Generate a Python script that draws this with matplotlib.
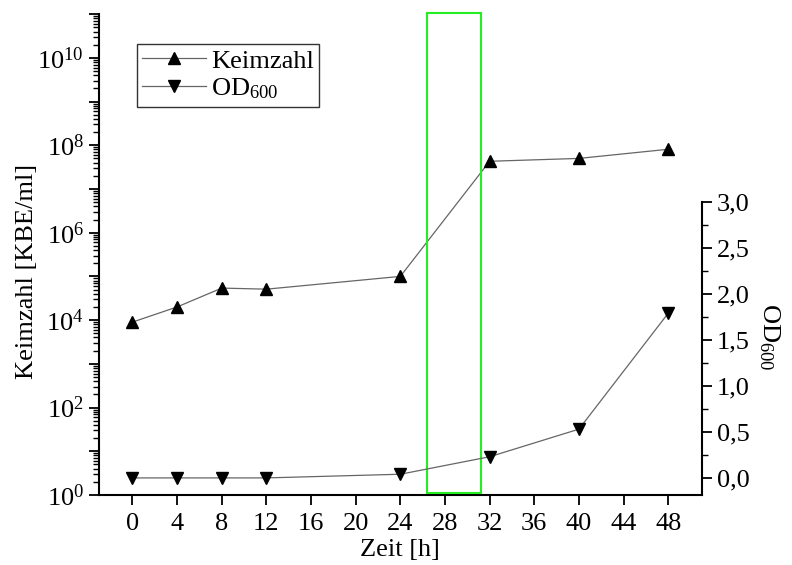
import matplotlib.pyplot as plt
import matplotlib.ticker as mticker
import matplotlib.transforms as mtrans
from matplotlib.patches import Rectangle

plt.rcParams['font.family'] = ['Liberation Serif', 'DejaVu Serif']
plt.rcParams['mathtext.fontset'] = 'custom'
plt.rcParams['mathtext.rm'] = 'Liberation Serif'
plt.rcParams['mathtext.it'] = 'Liberation Serif:italic'
plt.rcParams['font.size'] = 19

# Daten
zeit = [0, 4, 8, 12, 24, 32, 40, 48]
keimzahl = [9.0e3, 2.0e4, 5.4e4, 5.1e4, 1.0e5, 4.3e7, 5.0e7, 8.1e7]
od600 = [0.0, 0.0, 0.0, 0.0, 0.04, 0.23, 0.53, 1.79]
x_ticks = list(range(0, 49, 4))
markiert = (26.4, 31.2)

fig = plt.figure(figsize=(7.92, 5.65), dpi=100)
ax = fig.add_axes([0.125, 0.124, 0.761, 0.851])
ax2 = ax.twinx()

ax.plot(zeit, keimzahl, color='#666666', lw=0.9, marker='^', ms=8.5,
        mfc='black', mec='black', label='Keimzahl')
ax2.plot(zeit, od600, color='#666666', lw=0.9, marker='v', ms=8.5,
         mfc='black', mec='black', label='OD$_{600}$')

ax.set_yscale('log')
ax.set_ylim(1, 1e11)
ax.set_xlim(-3, 51)
ax.set_xticks(x_ticks)
ax.yaxis.set_major_locator(mticker.LogLocator(base=10, numticks=20))
ax.yaxis.set_minor_locator(mticker.LogLocator(base=10, subs=range(2, 10), numticks=20))


def log_fmt(v, pos):
    import math
    e = int(round(math.log10(v)))
    if e % 2 == 0 and 0 <= e <= 10:
        return '$10^{%d}$' % e
    return ''


ax.yaxis.set_major_formatter(mticker.FuncFormatter(log_fmt))

ax2.set_ylim(-0.185, 5.04)
ax2.set_yticks([0, 0.5, 1.0, 1.5, 2.0, 2.5, 3.0])
ax2.yaxis.set_minor_locator(mticker.FixedLocator([0.25, 0.75, 1.25, 1.75, 2.25, 2.75]))
ax2.yaxis.set_major_formatter(mticker.FuncFormatter(lambda v, p: ('%.1f' % v).replace('.', ',')))
ax2.spines['right'].set_bounds(-0.185, 3.0)

for a in (ax, ax2):
    a.spines['top'].set_visible(False)
    for s in a.spines.values():
        s.set_linewidth(1.5)
    a.tick_params(which='major', direction='out', length=7, width=1.3, pad=4)
    a.tick_params(which='minor', direction='out', length=4, width=1.0)
ax.spines['right'].set_visible(False)
ax2.spines['left'].set_visible(False)
ax2.spines['bottom'].set_visible(False)
ax.tick_params(axis='x', pad=6)

ax.set_xlabel('Zeit [h]', labelpad=3)
ax.set_ylabel('Keimzahl [KBE/ml]')
ax.yaxis.set_label_coords(-0.101, 0.464)
ax2.set_ylabel('OD$_{600}$', rotation=270)
ax2.yaxis.set_label_coords(1.132, 0.33)

# markierter Bereich
trans = mtrans.blended_transform_factory(ax.transData, ax.transAxes)
ax.add_patch(Rectangle((markiert[0], 0.004), markiert[1] - markiert[0], 0.998,
                       transform=trans, fill=False, edgecolor='#22ee22', lw=1.5,
                       clip_on=False, zorder=5))

h1, l1 = ax.get_legend_handles_labels()
h2, l2 = ax2.get_legend_handles_labels()
leg = ax.legend(h1 + h2, l1 + l2, loc='upper left', bbox_to_anchor=(0.063, 0.938),
                frameon=True, fancybox=False, edgecolor='black', handlelength=2.4,
                borderpad=0.2, labelspacing=0.15, handletextpad=0.2, borderaxespad=0)
leg.get_frame().set_linewidth(1.0)

fig.savefig('out.png', dpi=100)
